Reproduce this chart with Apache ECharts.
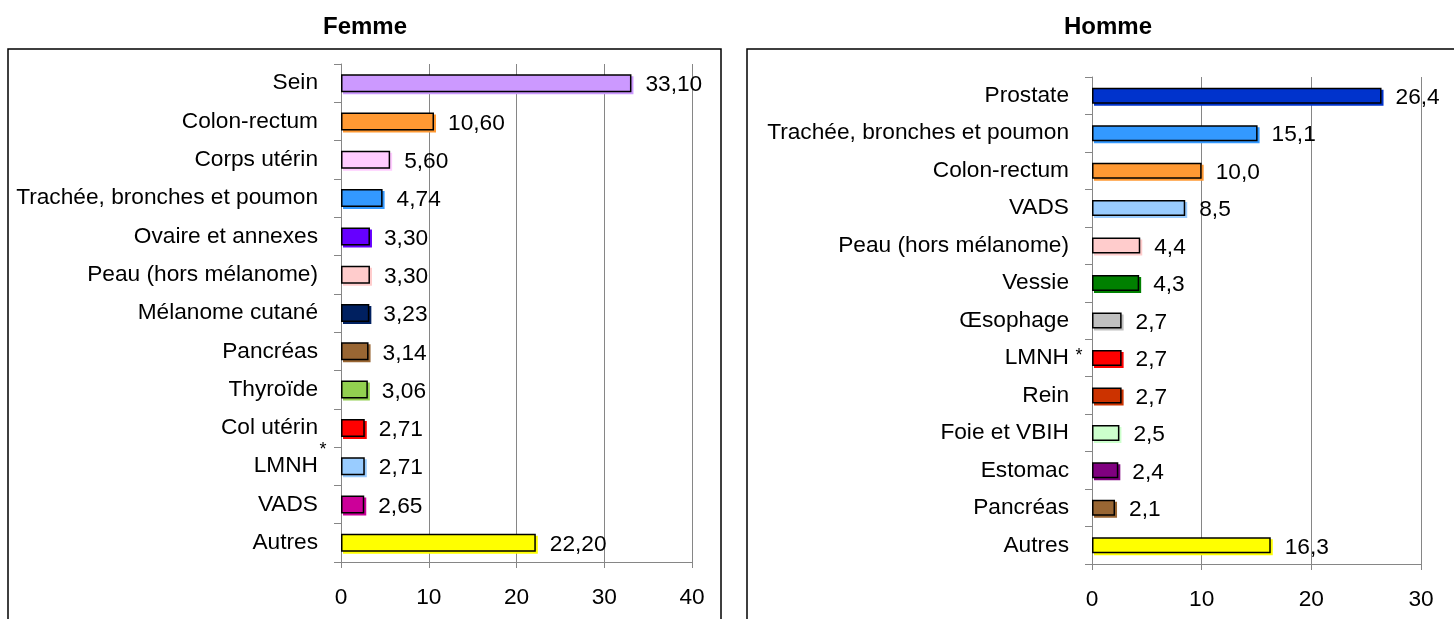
<!DOCTYPE html>
<html>
<head>
<meta charset="utf-8">
<script src="https://cdn.jsdelivr.net/npm/echarts@6/dist/echarts.min.js"></script>
<style>
  html, body { margin: 0; padding: 0; background: #fff; }
  #chart { width: 1454px; height: 619px; }
</style>
</head>
<body>
<div id="chart"></div>
<script>
// Femme
var femmeCats = ["Sein", "Colon-rectum", "Corps utérin", "Trachée, bronches et poumon",
  "Ovaire et annexes", "Peau (hors mélanome)", "Mélanome cutané", "Pancréas",
  "Thyroïde", "Col utérin", "LMNH", "VADS", "Autres"];
var femmeValues = [33.10, 10.60, 5.60, 4.74, 3.30, 3.30, 3.23, 3.14, 3.06, 2.71, 2.71, 2.65, 22.20];
var femmeColors = ["#CC99FF", "#FF9933", "#FFCCFF", "#3399FF", "#6600FF", "#FFCCCC",
  "#002060", "#996633", "#92D050", "#FF0000", "#99CCFF", "#CC0099", "#FFFF00"];

// Homme
var hommeCats = ["Prostate", "Trachée, bronches et poumon", "Colon-rectum", "VADS",
  "Peau (hors mélanome)", "Vessie", "Œsophage", "LMNH", "Rein", "Foie et VBIH",
  "Estomac", "Pancréas", "Autres"];
var hommeValues = [26.4, 15.1, 10.0, 8.5, 4.4, 4.3, 2.7, 2.7, 2.7, 2.5, 2.4, 2.1, 16.3];
var hommeColors = ["#0033CC", "#3399FF", "#FF9933", "#99CCFF", "#FFCCCC", "#008000",
  "#C0C0C0", "#FF0000", "#CC3300", "#CCFFCC", "#800080", "#996633", "#FFFF00"];

var FONT = "Liberation Sans, Arial, sans-serif";
var GRAY = "#868686";
var FS = 22.7;

function barData(values, colors) {
  return values.map(function (v, i) {
    return {
      value: v,
      itemStyle: {
        color: colors[i],
        borderColor: "#000",
        borderWidth: 1.5,
        shadowColor: colors[i],
        shadowBlur: 0,
        shadowOffsetX: 2,
        shadowOffsetY: 2
      }
    };
  });
}

function xAxis(gridIndex, max) {
  return {
    type: "value", gridIndex: gridIndex, min: 0, max: max, interval: 10,
    axisLine: { show: true, lineStyle: { color: GRAY, width: 1 } },
    axisTick: { show: true, length: 6, lineStyle: { color: GRAY } },
    splitLine: { show: true, lineStyle: { color: GRAY, width: 1 } },
    axisLabel: { margin: 24, fontSize: FS, color: "#000", fontFamily: FONT }
  };
}

function yAxis(gridIndex, cats) {
  return {
    type: "category", gridIndex: gridIndex, data: cats, inverse: true,
    axisLine: { show: true, lineStyle: { color: GRAY, width: 1 } },
    axisTick: { show: true, length: 7, lineStyle: { color: GRAY } },
    axisLabel: { margin: 23, fontSize: FS, color: "#000", fontFamily: FONT,
      padding: [4, 0, 0, 0] }
  };
}

function series(idx, values, colors, digits, width) {
  return {
    type: "bar", xAxisIndex: idx, yAxisIndex: idx,
    barWidth: width,
    data: barData(values, colors),
    label: {
      show: true, position: "right", distance: 14,
      fontSize: FS, color: "#000", fontFamily: FONT,
      offset: [0, 2],
      formatter: function (p) { return p.value.toFixed(digits).replace(".", ","); }
    },
    animation: false
  };
}

var chart = echarts.init(document.getElementById("chart"));
chart.setOption({
  animation: false,
  grid: [
    { left: 341, right: 1454 - 692, top: 64, bottom: 619 - 562 },
    { left: 1092, right: 1454 - 1421, top: 77, bottom: 619 - 564 }
  ],
  xAxis: [xAxis(0, 40), xAxis(1, 30)],
  yAxis: [yAxis(0, femmeCats), yAxis(1, hommeCats)],
  series: [
    series(0, femmeValues, femmeColors, 2, 18),
    series(1, hommeValues, hommeColors, 1, 16)
  ],
  graphic: [
    { type: "rect", shape: { x: 8, y: 49, width: 713, height: 600 },
      style: { fill: "none", stroke: "#000", lineWidth: 1.5 }, z: -1 },
    { type: "rect", shape: { x: 747, y: 49, width: 720, height: 600 },
      style: { fill: "none", stroke: "#000", lineWidth: 1.5 }, z: -1 },
    { type: "text", x: 365, y: 27,
      style: { text: "Femme", font: "bold 24px " + FONT, fill: "#000",
        textAlign: "center", textVerticalAlign: "middle" } },
    { type: "text", x: 1108, y: 27,
      style: { text: "Homme", font: "bold 24px " + FONT, fill: "#000",
        textAlign: "center", textVerticalAlign: "middle" } },
    { type: "text", x: 323, y: 450,
      style: { text: "*", font: "18px " + FONT, fill: "#000",
        textAlign: "center", textVerticalAlign: "middle" } },
    { type: "text", x: 1079, y: 356,
      style: { text: "*", font: "18px " + FONT, fill: "#000",
        textAlign: "center", textVerticalAlign: "middle" } }
  ]
});
</script>
</body>
</html>
